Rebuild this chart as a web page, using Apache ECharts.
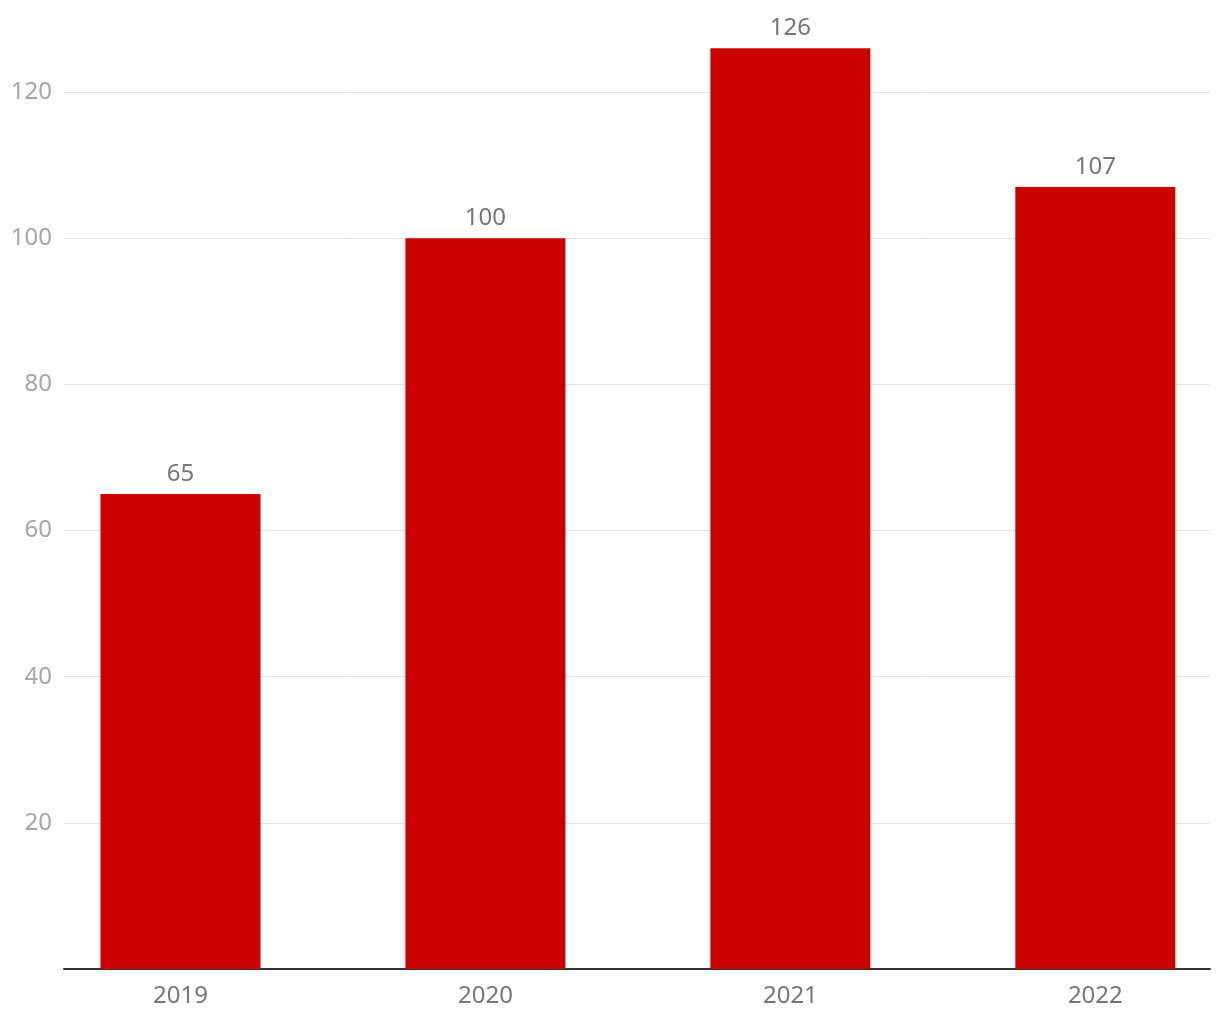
<!DOCTYPE html>
<html>
<head>
<meta charset="utf-8">
<title>Bar chart</title>
<script src="https://cdn.jsdelivr.net/npm/echarts@6/dist/echarts.min.js"></script>
<style>
  html, body { margin: 0; padding: 0; background: #fff; }
  #chart { width: 1220px; height: 1020px; }
</style>
</head>
<body>
<div id="chart"></div>
<script>
  // data
  var years = [2019, 2020, 2021, 2022];
  var values = [65, 100, 126, 107];
  var yTicks = [20, 40, 60, 80, 100, 120];

  var chart = echarts.init(document.getElementById('chart'));

  var barData = years.map(function (y, i) { return [y, values[i]]; });

  chart.setOption({
    animation: false,
    textStyle: { fontFamily: 'Noto Sans' },
    grid: { left: 64, right: 10, top: 92, bottom: 51 },
    xAxis: {
      type: 'value',
      min: 2018.618,
      max: 2022.376,
      splitNumber: 4,
      axisLine: { show: true, onZero: false, lineStyle: { color: '#333', width: 2 } },
      axisTick: { show: false },
      splitLine: { show: false },
      axisLabel: {
        color: '#777',
        fontSize: 24,
        margin: 15,
        showMinLabel: false,
        showMaxLabel: false,
        formatter: function (v) {
          return years.indexOf(Math.round(v * 1000) / 1000) >= 0 ? String(v) : '';
        }
      }
    },
    yAxis: {
      type: 'value',
      min: 0,
      max: yTicks[yTicks.length - 1],
      interval: 20,
      axisLine: { show: false },
      axisTick: { show: false },
      splitLine: { lineStyle: { color: '#e4e4e4', width: 1 } },
      axisLabel: {
        color: '#a6a6a6',
        fontSize: 24,
        margin: 12,
        showMinLabel: false
      }
    },
    series: [{
      type: 'bar',
      data: barData,
      barWidth: 160,
      clip: false,
      itemStyle: { color: '#cc0000' },
      label: {
        show: true,
        position: 'top',
        distance: 8,
        color: '#777',
        fontSize: 24,
        formatter: function (p) { return p.value[1]; }
      }
    }]
  });
</script>
</body>
</html>
